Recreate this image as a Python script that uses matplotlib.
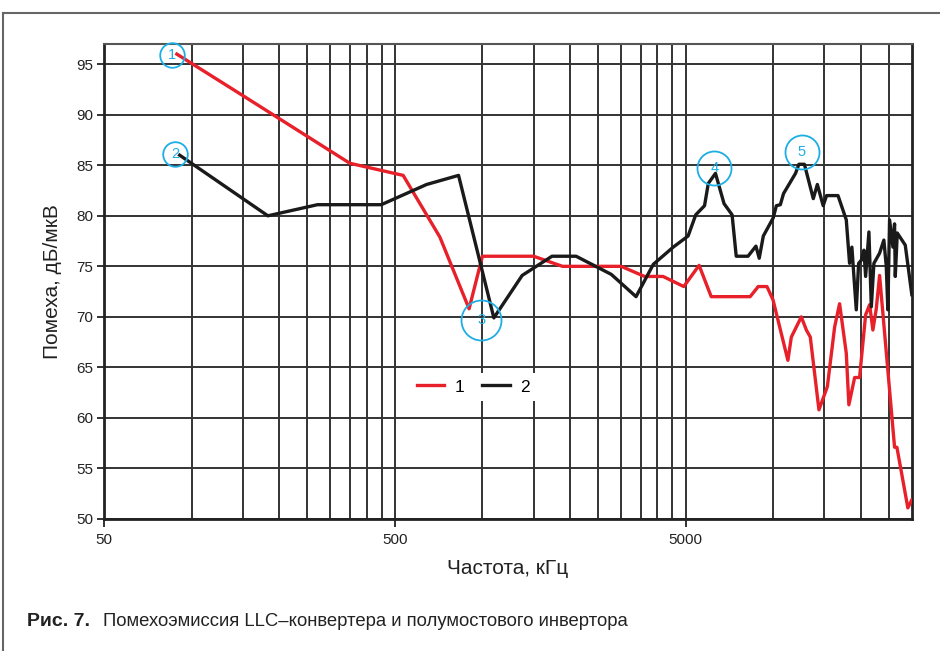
import matplotlib
matplotlib.use('Agg')
import matplotlib.pyplot as plt
from matplotlib.lines import Line2D
import numpy as np

# кривая 1 (LLC-конвертер), частота кГц / уровень дБмкВ
f1 = [89, 150, 350, 534, 714, 900, 1000, 1500, 1886, 3000, 3610, 4180, 4925, 5560,
      6120, 8330, 8880, 9515, 9980, 11230, 11540, 12490, 13000, 13410, 14360, 15350,
      16260, 16910, 17830, 18200, 19050, 19810, 20780, 21450, 22010, 22610, 23210,
      26130, 26620, 29030, 29960]
y1 = [96.0, 91.9, 85.2, 84.0, 77.9, 70.8, 76.0, 76.0, 75.0, 75.0, 74.0, 74.0, 73.0, 75.1,
      72.0, 72.0, 73.0, 73.0, 71.7, 65.7, 68.0, 70.0, 68.7, 68.0, 60.8, 63.1,
      69.0, 71.3, 66.4, 61.3, 64.0, 64.0, 70.2, 71.2, 68.7, 70.8, 74.1,
      57.1, 57.1, 51.1, 51.9]

# кривая 2 (полумостовой инвертор)
f2 = [91, 183, 271, 449, 643, 828, 1095, 1370, 1735, 2100, 2776, 3375, 3870, 4530,
      5096, 5415, 5805, 5980, 6330, 6775, 7220, 7460, 8190, 8720, 8950, 9245, 10000,
      10250, 10580, 10850, 11930, 12250, 12800, 13730, 14180, 14850, 15250, 16700,
      17830, 18300, 18640, 18940, 19300, 19660, 20080, 20500, 20780, 21330, 21740,
      22190, 23210, 24010, 24470, 24780, 25120, 25790, 26130, 26280, 26700, 28440, 29960]
y2 = [86.0, 80.0, 81.1, 81.1, 83.1, 84.0, 69.9, 74.1, 76.0, 76.0, 74.2, 72.0, 75.2, 76.9,
      78.0, 80.1, 81.0, 83.2, 84.2, 81.2, 80.1, 76.0, 76.0, 77.0, 75.8, 78.0, 79.8,
      81.0, 81.1, 82.2, 84.2, 85.1, 85.1, 81.7, 83.1, 81.0, 82.0, 82.0,
      79.6, 75.3, 76.9, 74.0, 70.7, 75.3, 75.6, 76.6, 74.0, 78.4, 71.0,
      75.3, 76.3, 77.6, 75.0, 70.7, 79.6, 76.9, 79.2, 74.0, 78.3, 77.1, 72.2]

# метки-кружки: частота, уровень, номер
mark_f = [85.6, 88, 991, 6270, 12550]
mark_y = [95.9, 86.1, 69.7, 84.7, 86.3]
mark_txt = ['1', '2', '3', '4', '5']
mark_size = [17.7, 17.7, 28.8, 24.5, 24.5]

yticks = [50, 55, 60, 65, 70, 75, 80, 85, 90, 95]
xticks = [50, 500, 5000]

plt.rcParams['font.family'] = ['Liberation Sans', 'DejaVu Sans']

fig = plt.figure(figsize=(9.4, 6.51), dpi=100)
ax = fig.add_axes([104/940, 1-519/651, 808/940, 475/651])

minor = [50*k*10**n for n in range(3) for k in range(2, 10) if 50*k*10**n < 30000]

ax.set_xscale('log')
ax.set_xlim(50, 30000)
ax.set_ylim(50, 97)
ax.set_xticks(xticks)
ax.set_xticklabels([str(t) for t in xticks])
ax.set_xticks(minor, minor=True)
ax.set_xticklabels([], minor=True)
ax.set_yticks(yticks)
ax.tick_params(axis='x', which='minor', length=0)
ax.tick_params(axis='x', which='major', length=6, width=1.3, labelsize=11, pad=4,
               color='#222', labelcolor='#222')
ax.tick_params(axis='y', length=5, width=1.3, labelsize=11, pad=3, color='#222',
               labelcolor='#222')

ax.grid(True, which='both', axis='x', color='#333333', lw=1.4)
ax.grid(True, which='major', axis='y', color='#333333', lw=1.4)
ax.set_axisbelow(True)

for s in ['left', 'bottom', 'right']:
    ax.spines[s].set_linewidth(2)
    ax.spines[s].set_color('#222')
ax.spines['top'].set_linewidth(1.5)
ax.spines['top'].set_color('#555')

l1, = ax.plot(f1, y1, color='#e8202a', lw=2.4, label='1', zorder=3)
l2, = ax.plot(f2, y2, color='#1a1a1a', lw=2.4, label='2', zorder=4)

for fx, fy, t, ms in zip(mark_f, mark_y, mark_txt, mark_size):
    ax.plot([fx], [fy], marker='o', ms=ms, mfc='none', mec='#1eaee6', mew=1.3,
            ls='none', zorder=5, clip_on=False)
    ax.text(fx, fy, t, color='#1eaee6', fontsize=10.5, ha='center', va='center', zorder=6)

leg = ax.legend(handles=[l1, l2], ncol=2, loc='center', bbox_to_anchor=(0.457, 0.278),
                frameon=True, fontsize=12.5, handlelength=1.6, handletextpad=0.6,
                columnspacing=1.0, borderpad=0.35, fancybox=False)
leg.get_frame().set_edgecolor('none')
leg.get_frame().set_facecolor('white')
leg.get_frame().set_alpha(1)
leg.set_zorder(7)

ax.set_ylabel('Помеха, дБ/мкВ', fontsize=15, labelpad=10, color='#222')
ax.set_xlabel('Частота, кГц', fontsize=15, labelpad=9, color='#222')

# рамка рисунка
fig.add_artist(Line2D([3/940, 3/940], [0, 1-13/651], color='#666', lw=1.5))
fig.add_artist(Line2D([3/940, 1], [1-13/651, 1-13/651], color='#666', lw=1.5))

fig.text(27/940, 1-622/651, 'Рис. 7.', fontsize=14, fontweight='heavy', va='center',
         color='#222')
fig.text(103/940, 1-622/651, 'Помехоэмиссия LLC–конвертера и полумостового инвертора',
         fontsize=13.3, va='center', color='#222')

fig.savefig('out.png', dpi=100)
